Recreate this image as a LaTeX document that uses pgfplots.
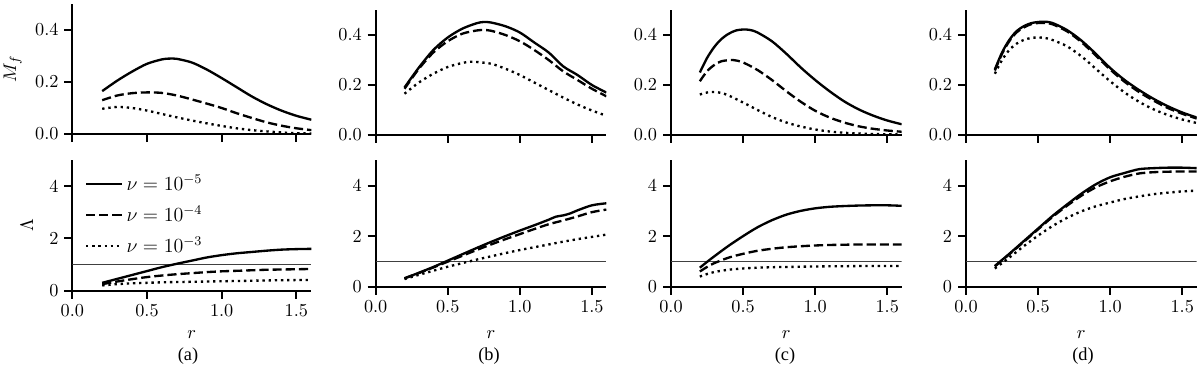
\documentclass[border=0pt]{standalone}
\usepackage{fontspec}
\newfontfamily\capfont{Liberation Serif}
\usepackage{pgfplots}
\pgfplotsset{compat=1.18}

\pgfplotsset{
  panel/.style={
    scale only axis,
    axis lines=left,
    axis line style={-, line width=1.3pt},
    tick align=outside,
    major tick length=4.8pt,
    major tick style={black, line width=1.2pt},
    xmin=0, xmax=1.6, enlargelimits=false,
    xtick={0,0.5,1,1.5},
    tick label style={font=\fontsize{11}{13}\selectfont},
    label style={font=\fontsize{11}{13}\selectfont},
    xticklabel style={/pgf/number format/.cd, fixed, fixed zerofill, precision=1},
    anchor=north west,
  },
  mfrow/.style={ymin=0, ymax=0.5, ytick={0,0.2,0.4}, xticklabels={},
    yticklabel style={/pgf/number format/.cd, fixed, fixed zerofill, precision=1}},
  lrow/.style={ymin=0, ymax=5, ytick={0,2,4}, xlabel={$r$}},
  s1/.style={black, line width=1.4pt, smooth},
  s2/.style={black, line width=1.4pt, dash pattern=on 5.5pt off 2.4pt, smooth},
  s3/.style={black, line width=1.4pt, dash pattern=on 1.4pt off 2.3pt, smooth},
  ref/.style={black!75, line width=0.8pt, forget plot},
}

\begin{document}
\begin{tikzpicture}
\path[use as bounding box] (0pt,0pt) rectangle (720pt,-222pt);

% ---------- (a) ----------
\begin{axis}[panel, mfrow, at={(43.4pt,-2.4pt)}, width=143.4pt, height=78pt,
  ylabel={$M_f$}, ylabel style={at={(axis description cs:-0.25,0.5)}, anchor=center}]
\addplot[s1] coordinates {(0.2,0.165)(0.3,0.205)(0.4,0.24)(0.5,0.27)(0.6,0.287)(0.65,0.29)(0.7,0.289)(0.8,0.275)(0.9,0.248)(1.0,0.215)(1.1,0.18)(1.2,0.145)(1.3,0.115)(1.4,0.09)(1.5,0.07)(1.6,0.055)};
\addplot[s2] coordinates {(0.2,0.13)(0.3,0.148)(0.4,0.157)(0.5,0.16)(0.6,0.158)(0.7,0.148)(0.8,0.133)(0.9,0.117)(1.0,0.1)(1.1,0.08)(1.2,0.062)(1.3,0.045)(1.4,0.032)(1.5,0.022)(1.6,0.015)};
\addplot[s3] coordinates {(0.2,0.097)(0.3,0.104)(0.4,0.1)(0.5,0.09)(0.6,0.077)(0.7,0.064)(0.8,0.052)(0.9,0.041)(1.0,0.031)(1.1,0.022)(1.2,0.015)(1.3,0.01)(1.4,0.006)(1.5,0.003)(1.6,0.002)};
\end{axis}

\begin{axis}[panel, lrow, at={(43.4pt,-96pt)}, width=143.4pt, height=78.4pt,
  ylabel={$\Lambda$}, ylabel style={at={(axis description cs:-0.19,0.5)}, anchor=center},
  xlabel style={at={(axis description cs:0.5,0)}, anchor=base, yshift=-28.4pt},
  legend style={draw=none, fill=none, at={(0.03,0.94)}, anchor=north west,
    font=\fontsize{12}{14}\selectfont, row sep=3.5pt},
  legend cell align=left,
  legend image code/.code={\draw[#1] (0pt,0pt) -- (21.6pt,0pt);}]
\addplot[ref] coordinates {(0,1)(1.6,1)};
\addplot[s1] coordinates {(0.2,0.3)(0.3,0.45)(0.4,0.6)(0.5,0.75)(0.6,0.9)(0.7,1.03)(0.8,1.15)(0.9,1.27)(1.0,1.36)(1.1,1.43)(1.2,1.48)(1.3,1.53)(1.4,1.57)(1.5,1.59)(1.6,1.6)};
\addlegendentry{$\nu=10^{-5}$}
\addplot[s2] coordinates {(0.2,0.25)(0.3,0.35)(0.4,0.44)(0.5,0.52)(0.6,0.58)(0.7,0.63)(0.8,0.67)(0.9,0.71)(1.0,0.74)(1.1,0.76)(1.2,0.78)(1.3,0.8)(1.4,0.81)(1.5,0.82)(1.6,0.83)};
\addlegendentry{$\nu=10^{-4}$}
\addplot[s3] coordinates {(0.2,0.2)(0.3,0.25)(0.4,0.28)(0.5,0.3)(0.6,0.32)(0.7,0.33)(0.8,0.34)(0.9,0.35)(1.0,0.36)(1.2,0.38)(1.4,0.4)(1.6,0.41)};
\addlegendentry{$\nu=10^{-3}$}
\end{axis}

% ---------- (b) ----------
\begin{axis}[panel, mfrow, at={(225.4pt,-6pt)}, width=138.4pt, height=75pt]
\addplot[s1] coordinates {(0.2,0.19)(0.3,0.27)(0.4,0.34)(0.5,0.39)(0.6,0.425)(0.7,0.447)(0.75,0.452)(0.8,0.45)(0.9,0.435)(1.0,0.41)(1.1,0.37)(1.2,0.33)(1.3,0.275)(1.4,0.24)(1.5,0.2)(1.6,0.17)};
\addplot[s2] coordinates {(0.2,0.185)(0.3,0.265)(0.4,0.33)(0.5,0.375)(0.6,0.405)(0.7,0.418)(0.75,0.42)(0.8,0.417)(0.9,0.4)(1.0,0.375)(1.1,0.34)(1.2,0.3)(1.3,0.255)(1.4,0.22)(1.5,0.185)(1.6,0.155)};
\addplot[s3] coordinates {(0.2,0.165)(0.3,0.21)(0.4,0.245)(0.5,0.272)(0.6,0.288)(0.67,0.293)(0.8,0.285)(0.9,0.265)(1.0,0.24)(1.1,0.21)(1.2,0.18)(1.3,0.15)(1.4,0.122)(1.5,0.098)(1.6,0.077)};
\end{axis}

\begin{axis}[panel, lrow, at={(225.4pt,-96.2pt)}, width=138.4pt, height=75.8pt,
  xlabel style={at={(axis description cs:0.5,0)}, anchor=base, yshift=-30.8pt}]
\addplot[ref] coordinates {(0,1)(1.6,1)};
\addplot[s1] coordinates {(0.2,0.33)(0.3,0.55)(0.4,0.78)(0.5,1.03)(0.6,1.28)(0.7,1.53)(0.8,1.77)(0.9,2.0)(1.0,2.22)(1.1,2.43)(1.2,2.65)(1.25,2.77)(1.3,2.82)(1.35,2.9)(1.4,3.02)(1.5,3.22)(1.6,3.3)};
\addplot[s2] coordinates {(0.2,0.33)(0.3,0.54)(0.4,0.76)(0.5,0.99)(0.6,1.22)(0.7,1.45)(0.8,1.67)(0.9,1.88)(1.0,2.08)(1.1,2.28)(1.2,2.47)(1.3,2.62)(1.4,2.78)(1.5,2.95)(1.6,3.05)};
\addplot[s3] coordinates {(0.2,0.3)(0.3,0.47)(0.4,0.63)(0.5,0.79)(0.6,0.93)(0.7,1.07)(0.8,1.2)(0.9,1.33)(1.0,1.45)(1.1,1.56)(1.2,1.67)(1.3,1.78)(1.4,1.88)(1.5,1.97)(1.6,2.06)};
\end{axis}

% ---------- (c) ----------
\begin{axis}[panel, mfrow, at={(402.6pt,-6pt)}, width=138.4pt, height=75pt]
\addplot[s1] coordinates {(0.2,0.25)(0.25,0.308)(0.3,0.352)(0.35,0.384)(0.4,0.405)(0.45,0.418)(0.5,0.422)(0.55,0.42)(0.6,0.41)(0.7,0.375)(0.8,0.325)(0.9,0.27)(1.0,0.22)(1.1,0.175)(1.2,0.135)(1.3,0.103)(1.4,0.078)(1.5,0.058)(1.6,0.043)};
\addplot[s2] coordinates {(0.2,0.215)(0.25,0.255)(0.3,0.28)(0.35,0.295)(0.43,0.3)(0.5,0.29)(0.6,0.26)(0.7,0.22)(0.8,0.175)(0.9,0.133)(1.0,0.097)(1.1,0.07)(1.2,0.05)(1.3,0.035)(1.4,0.025)(1.5,0.018)(1.6,0.013)};
\addplot[s3] coordinates {(0.2,0.162)(0.25,0.17)(0.3,0.172)(0.35,0.168)(0.4,0.158)(0.5,0.13)(0.6,0.1)(0.7,0.072)(0.8,0.05)(0.9,0.034)(1.0,0.022)(1.1,0.014)(1.2,0.009)(1.3,0.006)(1.4,0.004)(1.5,0.003)(1.6,0.002)};
\end{axis}

\begin{axis}[panel, lrow, at={(402.6pt,-96.2pt)}, width=138.4pt, height=75.8pt,
  xlabel style={at={(axis description cs:0.5,0)}, anchor=base, yshift=-30.8pt}]
\addplot[ref] coordinates {(0,1)(1.6,1)};
\addplot[s1] coordinates {(0.2,0.75)(0.25,0.98)(0.3,1.2)(0.4,1.62)(0.5,2.0)(0.6,2.35)(0.7,2.63)(0.8,2.85)(0.9,3.0)(1.0,3.1)(1.1,3.16)(1.2,3.19)(1.3,3.21)(1.4,3.22)(1.5,3.22)(1.6,3.2)};
\addplot[s2] coordinates {(0.2,0.6)(0.25,0.78)(0.3,0.93)(0.4,1.15)(0.5,1.3)(0.6,1.42)(0.7,1.5)(0.8,1.56)(0.9,1.6)(1.0,1.63)(1.1,1.65)(1.2,1.66)(1.3,1.67)(1.4,1.67)(1.5,1.67)(1.6,1.67)};
\addplot[s3] coordinates {(0.2,0.4)(0.25,0.5)(0.3,0.58)(0.4,0.67)(0.5,0.72)(0.6,0.75)(0.7,0.77)(0.8,0.78)(0.9,0.79)(1.0,0.8)(1.2,0.81)(1.4,0.82)(1.6,0.82)};
\end{axis}

% ---------- (d) ----------
\begin{axis}[panel, mfrow, at={(579.6pt,-6pt)}, width=138.4pt, height=75pt]
\addplot[s1] coordinates {(0.2,0.262)(0.25,0.33)(0.3,0.38)(0.35,0.415)(0.4,0.435)(0.45,0.447)(0.5,0.452)(0.55,0.453)(0.6,0.448)(0.7,0.42)(0.8,0.378)(0.9,0.325)(1.0,0.268)(1.1,0.22)(1.2,0.18)(1.3,0.145)(1.4,0.115)(1.5,0.09)(1.6,0.07)};
\addplot[s2] coordinates {(0.2,0.258)(0.25,0.325)(0.3,0.375)(0.35,0.41)(0.4,0.43)(0.45,0.443)(0.5,0.448)(0.55,0.448)(0.6,0.443)(0.7,0.415)(0.8,0.372)(0.9,0.318)(1.0,0.262)(1.1,0.213)(1.2,0.172)(1.3,0.138)(1.4,0.108)(1.5,0.085)(1.6,0.066)};
\addplot[s3] coordinates {(0.2,0.245)(0.25,0.3)(0.3,0.34)(0.35,0.365)(0.4,0.38)(0.45,0.388)(0.5,0.39)(0.55,0.388)(0.6,0.38)(0.7,0.355)(0.8,0.315)(0.9,0.265)(1.0,0.215)(1.1,0.17)(1.2,0.133)(1.3,0.103)(1.4,0.08)(1.5,0.062)(1.6,0.048)};
\end{axis}

\begin{axis}[panel, lrow, at={(579.6pt,-96.2pt)}, width=138.4pt, height=75.8pt,
  xlabel style={at={(axis description cs:0.5,0)}, anchor=base, yshift=-30.8pt}]
\addplot[ref] coordinates {(0,1)(1.6,1)};
\addplot[s1] coordinates {(0.2,0.82)(0.3,1.3)(0.4,1.8)(0.5,2.3)(0.6,2.8)(0.7,3.25)(0.8,3.68)(0.9,4.05)(1.0,4.33)(1.1,4.5)(1.2,4.65)(1.3,4.69)(1.4,4.71)(1.5,4.71)(1.6,4.69)};
\addplot[s2] coordinates {(0.2,0.8)(0.3,1.28)(0.4,1.77)(0.5,2.27)(0.6,2.76)(0.7,3.2)(0.8,3.6)(0.9,3.93)(1.0,4.17)(1.1,4.35)(1.2,4.48)(1.3,4.53)(1.4,4.55)(1.5,4.56)(1.6,4.56)};
\addplot[s3] coordinates {(0.2,0.72)(0.3,1.15)(0.4,1.6)(0.5,2.02)(0.6,2.4)(0.7,2.72)(0.8,2.98)(0.9,3.18)(1.0,3.33)(1.1,3.47)(1.2,3.57)(1.3,3.66)(1.4,3.72)(1.5,3.77)(1.6,3.8)};
\end{axis}

% sub-captions
\node[font=\capfont\fontsize{11}{13}\selectfont, anchor=base] at (112.8pt,-216.3pt) {(a)};
\node[font=\capfont\fontsize{11}{13}\selectfont, anchor=base] at (293.4pt,-216.3pt) {(b)};
\node[font=\capfont\fontsize{11}{13}\selectfont, anchor=base] at (471pt,-216.3pt) {(c)};
\node[font=\capfont\fontsize{11}{13}\selectfont, anchor=base] at (649.8pt,-216.3pt) {(d)};
\end{tikzpicture}
\end{document}
